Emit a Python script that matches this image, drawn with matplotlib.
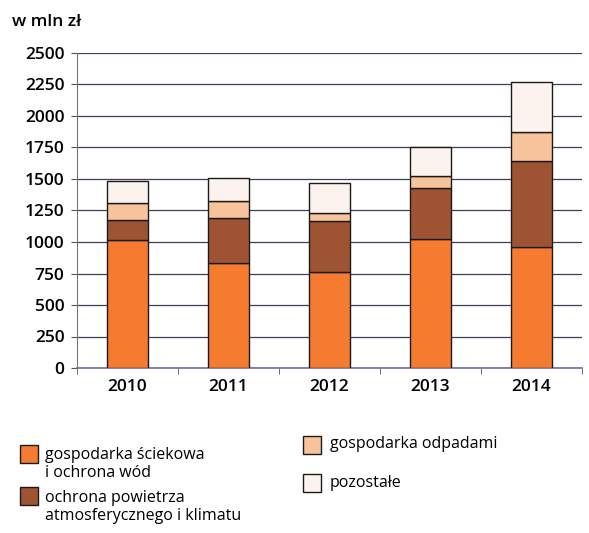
import matplotlib
matplotlib.use("Agg")
import matplotlib.pyplot as plt
from matplotlib.patches import Rectangle
import numpy as np

plt.rcParams['font.family'] = ['Open Sans', 'DejaVu Sans']

years = ["2010", "2011", "2012", "2013", "2014"]
scieki = [1016, 830, 764, 1024, 957]
powietrze = [161, 363, 400, 405, 686]
odpady = [129, 135, 66, 95, 232]
pozostale = [175, 182, 238, 232, 392]

series = [scieki, powietrze, odpady, pozostale]
colors = ["#F47B30", "#9E5433", "#F6C39A", "#FCF3EE"]
labels = ["gospodarka ściekowa\ni ochrona wód",
          "ochrona powietrza\natmosferycznego i klimatu",
          "gospodarka odpadami",
          "pozostałe"]
yticks = [0, 250, 500, 750, 1000, 1250, 1500, 1750, 2000, 2250, 2500]

W, H = 589, 533
fig = plt.figure(figsize=(W / 100, H / 100), dpi=100)
ax = fig.add_axes([77 / W, (H - 368) / H, (582 - 77) / W, (368 - 53) / H])

x = np.arange(len(years))
bottom = np.zeros(len(years))
for vals, col in zip(series, colors):
    ax.bar(x, vals, bottom=bottom, width=0.4, color=col,
           edgecolor="#1a1a1a", linewidth=1.0, zorder=3)
    bottom += np.array(vals)

ax.set_xlim(-0.5, len(years) - 0.5)
ax.set_ylim(0, 2500)
ax.set_yticks(yticks)
ax.set_yticklabels([str(t) for t in yticks], fontsize=12.5, fontweight="semibold")
ax.yaxis.grid(True, color="#3f3f58", linewidth=0.9, zorder=0)
ax.set_axisbelow(True)

ax.set_xticks(x)
ax.set_xticklabels(years, fontsize=12.5, fontweight="semibold")
ax.tick_params(axis="x", length=0, pad=8)
ax.set_xticks(np.arange(-0.5, len(years)), minor=True)
ax.tick_params(axis="x", which="minor", length=4, color="#555555")
ax.tick_params(axis="y", length=4, color="#555555", pad=5)

for s in ["top", "right"]:
    ax.spines[s].set_visible(False)
ax.spines["left"].set_color("#777777")
ax.spines["bottom"].set_color("#6c6cae")
ax.spines["bottom"].set_linewidth(1.2)

fig.text(12 / W, 1 - 22 / H, "w mln zł", fontsize=12.5, fontweight="semibold",
         va="center", ha="left")

# legend drawn as patches and text in figure coordinates
legend_pos = [(20, 445, 45, 447), (20, 487, 45, 490),
              (303, 436, 330, 444), (303, 474, 330, 483)]
for (sx, sy, tx, ty), col, lab in zip(legend_pos, colors, labels):
    fig.patches.append(Rectangle((sx / W, 1 - (sy + 18) / H), 18 / W, 18 / H,
                                 transform=fig.transFigure, facecolor=col,
                                 edgecolor="#1a1a1a", linewidth=1.0))
    fig.text(tx / W, 1 - ty / H, lab, fontsize=11.5, va="top" if "\n" in lab else "center",
             ha="left", linespacing=1.2)

fig.savefig("out.png", dpi=100)
